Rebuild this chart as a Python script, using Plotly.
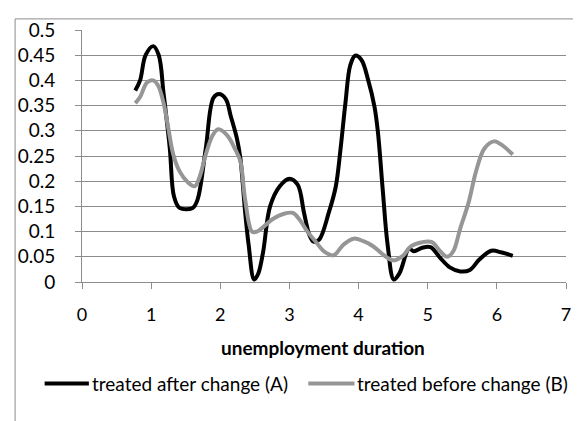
import plotly.graph_objects as go

# Series data
black_x = [0.77, 0.84, 0.92, 1.03, 1.11, 1.18, 1.27, 1.33, 1.41, 1.60, 1.67, 1.79, 1.90, 1.98, 2.08,
           2.15, 2.24, 2.29, 2.36, 2.41, 2.49, 2.55, 2.62, 2.72, 2.86, 3.00, 3.12, 3.21, 3.29, 3.35,
           3.43, 3.57, 3.67, 3.74, 3.81, 3.88, 3.95, 4.04, 4.14, 4.23, 4.28, 4.35, 4.42, 4.51, 4.59,
           4.73, 4.80, 4.92, 5.04, 5.18, 5.32, 5.47, 5.61, 5.75, 5.92, 6.06, 6.23]
black_y = [0.38, 0.40, 0.45, 0.468, 0.45, 0.374, 0.265, 0.17, 0.147, 0.147, 0.163, 0.265, 0.365, 0.373,
           0.363, 0.33, 0.285, 0.246, 0.138, 0.074, 0.005, 0.017, 0.06, 0.15, 0.19, 0.205, 0.193, 0.138,
           0.093, 0.08, 0.084, 0.138, 0.189, 0.265, 0.355, 0.43, 0.449, 0.441, 0.40, 0.348, 0.297, 0.182,
           0.074, 0.005, 0.017, 0.066, 0.061, 0.068, 0.069, 0.048, 0.029, 0.021, 0.024, 0.045, 0.062,
           0.059, 0.052]

gray_x = [0.77, 0.84, 0.94, 1.03, 1.10, 1.18, 1.25, 1.32, 1.41, 1.53, 1.63, 1.70, 1.79, 1.89, 1.97,
          2.10, 2.22, 2.29, 2.36, 2.46, 2.53, 2.62, 2.76, 2.91, 3.05, 3.14, 3.26, 3.38, 3.50, 3.64,
          3.78, 3.93, 4.07, 4.21, 4.35, 4.50, 4.64, 4.76, 4.92, 5.06, 5.18, 5.28, 5.37, 5.47, 5.59,
          5.70, 5.82, 5.96, 6.06, 6.23]
gray_y = [0.355, 0.367, 0.396, 0.400, 0.39, 0.355, 0.304, 0.253, 0.22, 0.198, 0.19, 0.208, 0.253,
          0.291, 0.303, 0.291, 0.262, 0.24, 0.163, 0.10, 0.10, 0.109, 0.125, 0.135, 0.137, 0.125,
          0.10, 0.08, 0.061, 0.053, 0.074, 0.086, 0.081, 0.071, 0.055, 0.043, 0.052, 0.071, 0.079,
          0.079, 0.061, 0.05, 0.061, 0.106, 0.157, 0.22, 0.265, 0.279, 0.273, 0.253]

series_names = ["treated after change (A)", "treated before change (B)"]
series_colors = ["#000000", "#969696"]
x_title = "unemployment duration"
x_ticks = [0, 1, 2, 3, 4, 5, 6, 7]
y_ticks = [0, 0.05, 0.1, 0.15, 0.2, 0.25, 0.3, 0.35, 0.4, 0.45, 0.5]
y_ticktext = ["0", "0.05", "0.1", "0.15", "0.2", "0.25", "0.3", "0.35", "0.4", "0.45", "0.5"]

FONT = "Lato"
GRID = "#8c8c8c"

fig = go.Figure()
fig.add_trace(go.Scatter(x=black_x, y=black_y, mode="lines", name=series_names[0],
                         line=dict(color=series_colors[0], width=4, shape="spline", smoothing=1)))
fig.add_trace(go.Scatter(x=gray_x, y=gray_y, mode="lines", name=series_names[1],
                         line=dict(color=series_colors[1], width=4, shape="spline", smoothing=1)))

OFF = 8  # page body margin
W, H = 573, 413
L, T = 71, 13
pw, ph = 492, 261
R, B = W - L - pw, H - T - ph


def px2x(px):
    return (px - OFF - L) / pw


def px2y(py):
    return (H - B - (py - OFF)) / ph


fig.update_layout(
    width=W, height=H,
    margin=dict(l=L, r=R, t=T, b=B),
    paper_bgcolor="white", plot_bgcolor="white",
    showlegend=False,
    font=dict(family=FONT, size=18, color="#000000"),
    xaxis=dict(range=[0, 7], tickvals=x_ticks, ticktext=[str(v) for v in x_ticks],
               showgrid=False, zeroline=False, showline=True, linecolor=GRID, linewidth=1,
               ticks="outside", ticklen=6, tickcolor=GRID, tickwidth=1,
               ticklabelstandoff=10, tickfont=dict(family=FONT, size=18)),
    yaxis=dict(range=[0, 0.5], tickvals=y_ticks, ticktext=y_ticktext,
               showgrid=True, gridcolor=GRID, gridwidth=1, zeroline=False,
               showline=True, linecolor=GRID, linewidth=1,
               ticks="outside", ticklen=6, tickcolor=GRID, tickwidth=1,
               ticklabelstandoff=16, tickfont=dict(family=FONT, size=19)),
)

# chart frame (Excel chart area border)
fig.add_shape(type="rect", xref="paper", yref="paper",
              x0=px2x(11), x1=px2x(W + 40), y0=px2y(H + 40), y1=px2y(9.5),
              line=dict(color=GRID, width=1), fillcolor="rgba(0,0,0,0)", layer="below")

# axis title
fig.add_annotation(text="<b>" + x_title + "</b>", xref="paper", yref="paper",
                   x=px2x(324), y=px2y(350), xanchor="center", yanchor="middle",
                   showarrow=False, font=dict(family=FONT, size=19, color="#000000"))

# legend (drawn manually to match Excel's long samples)
leg = [(41, 86, 87), (309, 356, 357)]
for (x0, x1, xt), name, col in zip(leg, series_names, series_colors):
    fig.add_shape(type="line", xref="paper", yref="paper",
                  x0=px2x(x0), x1=px2x(x1), y0=px2y(387), y1=px2y(387),
                  line=dict(color=col, width=4))
    fig.add_annotation(text=name, xref="paper", yref="paper",
                       x=px2x(xt), y=px2y(387), xanchor="left", yanchor="middle",
                       showarrow=False, font=dict(family=FONT, size=19, color="#000000"))

fig.write_html("out.html")
